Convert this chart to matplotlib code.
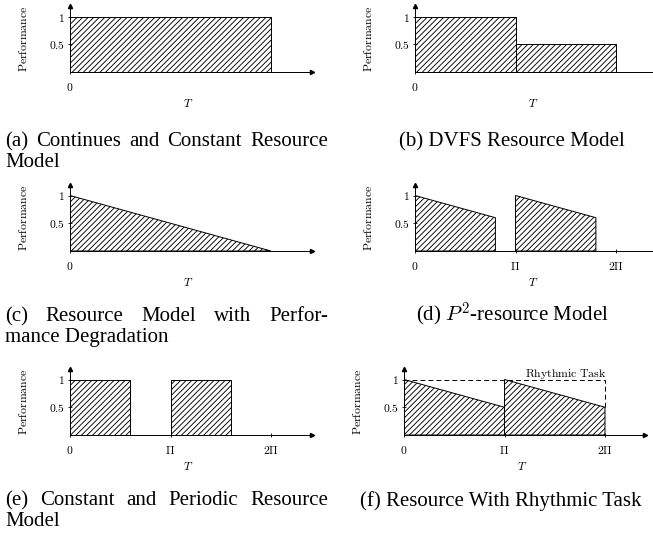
import matplotlib.pyplot as plt

plt.rcParams['mathtext.fontset'] = 'cm'
plt.rcParams['hatch.linewidth'] = 0.65

W, H = 653, 535          # figure size in pixels (dpi 100)
XU, YU = 100.5, 55.5     # pixels per Pi / per unit of performance

# each piece: (t start, t end, perf at start, perf at end), t in units of Pi
a_pieces = [(0, 2, 1.0, 1.0)]
b_pieces = [(0, 1, 1.0, 1.0), (1, 2, 0.5, 0.5)]
c_pieces = [(0, 2, 1.0, 0.0)]
d_pieces = [(0, 0.8, 1.0, 0.6), (1, 1.8, 1.0, 0.6)]
e_pieces = [(0, 0.6, 1.0, 1.0), (1, 1.6, 1.0, 1.0)]
f_pieces = [(0, 1, 1.0, 0.5), (1, 2, 1.0, 0.5)]
f_task_t = [0, 2, 2]
f_task_perf = [1, 1, 0.5]

y_ticks = [0.5, 1]
y_labels = ['$0.5$', '$1$']
zero_ticks = [0]
zero_labels = ['$0$']
pi_ticks = [0, 1, 2]
pi_labels = ['$0$', r'$\Pi$', r'$2\Pi$']

cap_a = ['(a) Continues and Constant Resource', 'Model']
cap_b = '(b) DVFS Resource Model'
cap_c = ['(c) Resource Model with Perfor-', 'mance Degradation']
cap_d = '(d) $P^2$-resource Model'
cap_e = ['(e) Constant and Periodic Resource', 'Model']
cap_f = '(f) Resource With Rhythmic Task'

fig = plt.figure(figsize=(W / 100, H / 100), dpi=100)


def panel(x0, base, tip_x, tip_y, pieces, xt, xtl):
    w = tip_x - x0
    h = base - tip_y
    ax = fig.add_axes([x0 / W, 1 - base / H, w / W, h / H])
    ax.set_xlim(0, w / XU)
    ax.set_ylim(0, h / YU)
    for t0, t1, p0, p1 in pieces:
        ax.fill([t0, t0, t1, t1], [0, p0, p1, 0], facecolor='white',
                edgecolor='black', hatch='//////', lw=0.7)
    for s in ['top', 'right']:
        ax.spines[s].set_visible(False)
    for s in ['left', 'bottom']:
        ax.spines[s].set_linewidth(0.7)
    ax.plot(1, 0, '>k', ms=3, transform=ax.transAxes, clip_on=False)
    ax.plot(0, 1, '^k', ms=3, transform=ax.transAxes, clip_on=False)
    ax.set_xticks(xt, xtl)
    ax.set_yticks(y_ticks, y_labels)
    ax.tick_params(direction='inout', length=3, width=0.6, labelsize=8.3)
    ax.tick_params(axis='x', pad=5)
    ax.tick_params(axis='y', pad=2)
    ax.set_xlabel('$T$', fontsize=8.5)
    ax.xaxis.set_label_coords(0.49, -25 / h)
    ax.set_ylabel(r'$\mathrm{Performance}$', fontsize=8.5)
    ax.yaxis.set_label_coords(-40 / w, 0.5)
    ax.patch.set_visible(False)
    return ax


def caption(text, xc, y):
    fig.text(xc / W, 1 - y / H, text, ha='center', va='baseline',
             family='Liberation Serif', fontsize=15)


def justified(line, x0, x1, y):
    r = fig.canvas.get_renderer()
    words = line.split()
    texts = [fig.text(0, 1 - y / H, wd, ha='left', va='baseline',
                      family='Liberation Serif', fontsize=15) for wd in words]
    widths = [t.get_window_extent(r).width for t in texts]
    gap = (x1 - x0 - sum(widths)) / (len(words) - 1)
    x = x0
    for t, wd in zip(texts, widths):
        t.set_x(x / W)
        x += wd + gap


def left_line(line, x0, y):
    fig.text(x0 / W, 1 - y / H, line, ha='left', va='baseline',
             family='Liberation Serif', fontsize=15)


panel(70, 72, 312, 6, a_pieces, zero_ticks, zero_labels)
panel(415, 72, 657, 6, b_pieces, zero_ticks, zero_labels)
panel(70, 251, 312, 185, c_pieces, zero_ticks, zero_labels)
panel(415, 251, 657, 185, d_pieces, pi_ticks, pi_labels)
panel(70, 435, 312, 369, e_pieces, pi_ticks, pi_labels)
axf = panel(404, 435, 645, 369, f_pieces, pi_ticks, pi_labels)
axf.plot(f_task_t, f_task_perf, color='black', lw=0.7, ls=(0, (5, 3.2)))
axf.text(2.02, 1.05, r'$\mathrm{Rhythmic\ Task}$', ha='right', va='baseline',
         fontsize=8.5)

justified(cap_a[0], 5, 328, 146)
left_line(cap_a[1], 5, 167)
caption(cap_b, 512, 146)
justified(cap_c[0], 5, 328, 321)
left_line(cap_c[1], 5, 342)
caption(cap_d, 512, 321)
justified(cap_e[0], 5, 328, 505)
left_line(cap_e[1], 5, 526)
caption(cap_f, 501, 506)

fig.savefig('out.png', dpi=100)
